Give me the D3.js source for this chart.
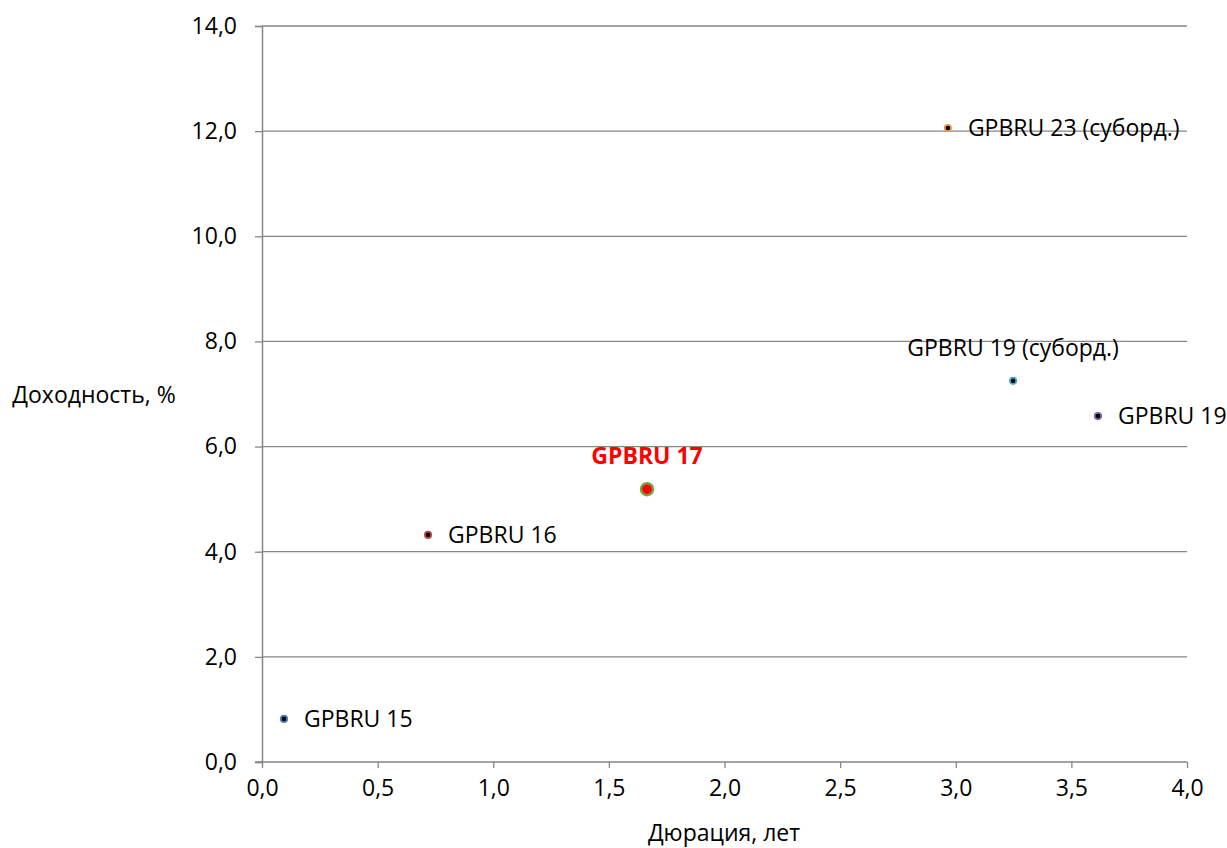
<!DOCTYPE html>
<html>
<head>
<meta charset="utf-8">
<script src="https://cdn.jsdelivr.net/npm/d3@7"></script>
<style>
body { margin: 0; background: #fff; }
text { font-family: "Open Sans", "Liberation Sans", sans-serif; }
</style>
</head>
<body>
<script>
"use strict";

var names = ["GPBRU 15", "GPBRU 16", "GPBRU 17", "GPBRU 19 (суборд.)", "GPBRU 19", "GPBRU 23 (суборд.)"];
var durations = [0.095, 0.718, 1.665, 3.248, 3.615, 2.966];
var yields = [0.82, 4.32, 5.19, 7.25, 6.58, 12.06];
var borderColors = ["#4f81bd", "#c0504d", "#77a040", "#4bacc6", "#8064a2", "#f79646"];
var xTicks = [0, 0.5, 1, 1.5, 2, 2.5, 3, 3.5, 4];
var yTicks = [0, 2, 4, 6, 8, 10, 12, 14];

var W = 1227, H = 848;
var plotLeft = 262, plotRight = 1187, plotTop = 26, plotBottom = 762;
var fs = 23;

var svg = d3.select("body").append("svg")
    .attr("width", W)
    .attr("height", H);

var x = d3.scaleLinear().domain([0, 4]).range([plotLeft, plotRight]);
var y = d3.scaleLinear().domain([0, 14]).range([plotBottom, plotTop]);
var fmt = function (v) { return d3.format(".1f")(v).replace(".", ","); };

// gridlines
svg.selectAll(".grid")
    .data(yTicks.filter(function (d) { return d > 0; }))
    .enter().append("line")
    .attr("x1", plotLeft).attr("x2", plotRight)
    .attr("y1", function (d) { return y(d); })
    .attr("y2", function (d) { return y(d); })
    .attr("stroke", "#868686")
    .attr("stroke-width", 1.3);

var yAxis = svg.append("g")
    .attr("transform", "translate(" + plotLeft + ",0)")
    .call(d3.axisLeft(y).tickValues(yTicks).tickFormat(fmt).tickSize(7).tickPadding(18));
var xAxis = svg.append("g")
    .attr("transform", "translate(0," + plotBottom + ")")
    .call(d3.axisBottom(x).tickValues(xTicks).tickFormat(fmt).tickSize(6).tickPadding(12));

[yAxis, xAxis].forEach(function (a) {
    a.select(".domain").attr("stroke", "#868686").attr("stroke-width", 1.5);
    a.selectAll(".tick line").attr("stroke", "#868686").attr("stroke-width", 1.3);
    a.selectAll(".tick text").attr("font-size", fs).attr("fill", "#000");
});
xAxis.select(".domain").attr("d", "M" + (plotLeft - 7) + ",0H" + plotRight);

svg.append("text")
    .attr("x", 94).attr("y", 403)
    .attr("text-anchor", "middle")
    .attr("font-size", fs)
    .attr("fill", "#000")
    .text("Доходность, %");
svg.append("text")
    .attr("x", 724).attr("y", 841)
    .attr("text-anchor", "middle")
    .attr("font-size", fs)
    .attr("fill", "#000")
    .text("Дюрация, лет");

var pts = names.map(function (n, i) {
    return { name: n, dx: durations[i], yy: yields[i], color: borderColors[i] };
});

svg.selectAll(".pt")
    .data(pts)
    .enter().append("circle")
    .attr("cx", function (d) { return x(d.dx); })
    .attr("cy", function (d) { return y(d.yy); })
    .attr("r", function (d) { return d.name === "GPBRU 17" ? 6 : 3.2; })
    .attr("fill", function (d) { return d.name === "GPBRU 17" ? "#ff0000" : "#000"; })
    .attr("stroke", function (d) { return d.color; })
    .attr("stroke-width", function (d) { return d.name === "GPBRU 17" ? 2.5 : 1.8; });

// labels: right of point, except the two placed above
function above(d) { return d.name === "GPBRU 17" || d.name === "GPBRU 19 (суборд.)"; }

svg.selectAll(".lbl")
    .data(pts)
    .enter().append("text")
    .attr("x", function (d) { return above(d) ? x(d.dx) : x(d.dx) + 20; })
    .attr("y", function (d) { return above(d) ? y(d.yy) - 25 : y(d.yy) + 8; })
    .attr("text-anchor", function (d) { return above(d) ? "middle" : "start"; })
    .attr("font-size", fs)
    .attr("font-weight", function (d) { return d.name === "GPBRU 17" ? "bold" : "normal"; })
    .attr("fill", function (d) { return d.name === "GPBRU 17" ? "#ff0000" : "#000"; })
    .text(function (d) { return d.name; });
</script>
</body>
</html>
